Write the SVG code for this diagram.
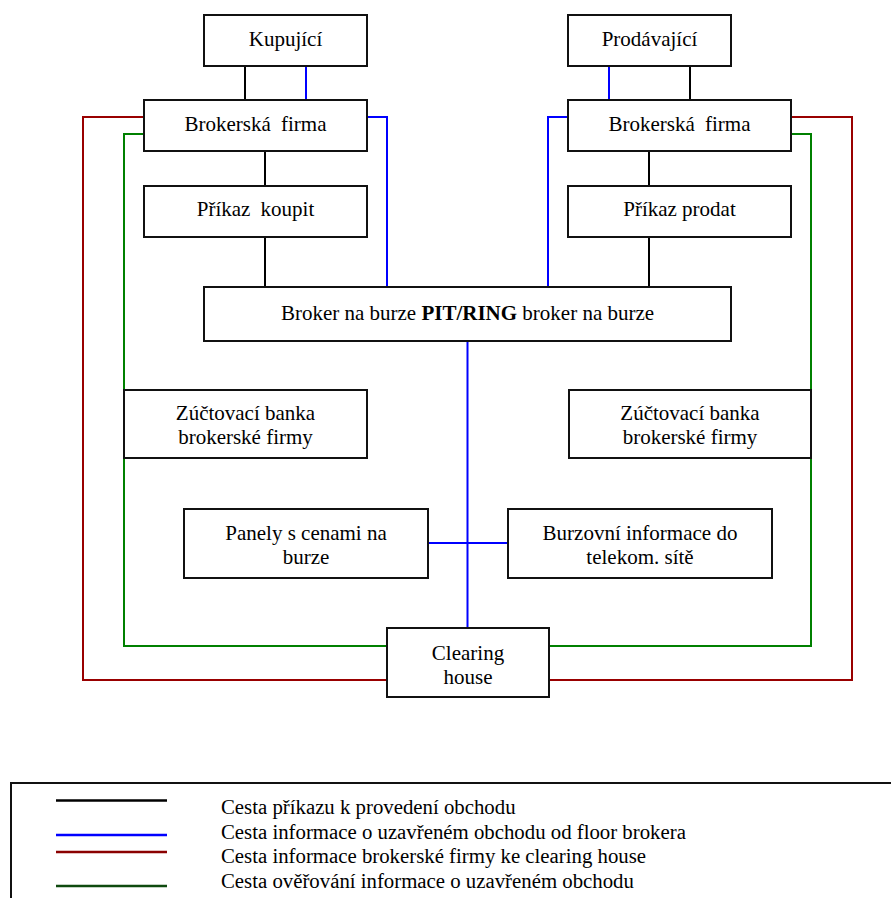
<svg xmlns="http://www.w3.org/2000/svg" width="891" height="898" viewBox="0 0 891 898">
<style>
.box{fill:#fff;stroke:#111;stroke-width:2}
text{font-family:'Liberation Serif','DejaVu Serif','Times New Roman',serif;fill:#000}
.t{font-size:21px;text-anchor:middle}
.lt{font-size:20.8px}
.c{fill:none;stroke-width:2;stroke-linejoin:miter}
.k{stroke:#000}
.b{stroke:#0000ff}
.r{stroke:#990000}
.g{stroke:#008000}
</style>
<rect width="891" height="898" fill="#fff"/>
<g id="connectors">
<path class="c k" d="M245,66V100M265,151V186M265,237V287M690,66V100M649,151V186M649,237V287"/>
<path class="c b" d="M306,66V100M367,117H387V287M609,66V100M568,117H548V287M467.5,341V628M428,543H508"/>
<path class="c r" d="M144,117H83V680H387M791,117H852V680H549"/>
<path class="c g" d="M144,134H124V646H387M791,134H811V646H549"/>
</g>
<g id="kupujici"><rect class="box" x="204" y="15" width="163" height="51"/><text class="t" x="285.5" y="46">Kupující</text></g>
<g id="prodavajici"><rect class="box" x="568" y="15" width="163" height="51"/><text class="t" x="649.5" y="46">Prodávající</text></g>
<g id="broker-firma-l"><rect class="box" x="144" y="100" width="223" height="51"/><text class="t" x="255.5" y="131" word-spacing="5">Brokerská firma</text></g>
<g id="broker-firma-r"><rect class="box" x="568" y="100" width="223" height="51"/><text class="t" x="679.5" y="131" word-spacing="5">Brokerská firma</text></g>
<g id="prikaz-koupit"><rect class="box" x="144" y="186" width="223" height="51"/><text class="t" x="255.5" y="216" word-spacing="5">Příkaz koupit</text></g>
<g id="prikaz-prodat"><rect class="box" x="568" y="186" width="223" height="51"/><text class="t" x="679.5" y="216">Příkaz prodat</text></g>
<g id="broker-burza"><rect class="box" x="204" y="287" width="527" height="54"/><text class="t" x="467.5" y="319.5">Broker na burze <tspan font-weight="bold">PIT/RING</tspan> broker na burze</text></g>
<g id="zuctovaci-l"><rect class="box" x="124" y="390" width="243" height="68"/><text class="t" x="245.5" y="420">Zúčtovací banka</text><text class="t" x="245.5" y="443.5">brokerské firmy</text></g>
<g id="zuctovaci-r"><rect class="box" x="569" y="390" width="242" height="68"/><text class="t" x="690" y="420">Zúčtovací banka</text><text class="t" x="690" y="443.5">brokerské firmy</text></g>
<g id="panely"><rect class="box" x="184" y="509" width="244" height="69"/><text class="t" x="306" y="539.5">Panely s cenami na</text><text class="t" x="306" y="563.5">burze</text></g>
<g id="burzovni"><rect class="box" x="508" y="509" width="264" height="69"/><text class="t" x="640" y="539.5">Burzovní informace do</text><text class="t" x="640" y="563.5">telekom. sítě</text></g>
<g id="clearing"><rect class="box" x="387" y="628" width="162" height="69"/><text class="t" x="468" y="660">Clearing</text><text class="t" x="468" y="683.5">house</text></g>
<g id="legend">
<rect x="11" y="783" width="900" height="200" fill="none" stroke="#111" stroke-width="2"/>
<path d="M56,800.5H167" stroke="#000" stroke-width="2.5"/>
<path d="M56,835H167" stroke="#0000ff" stroke-width="2.5"/>
<path d="M56,852H167" stroke="#8b0000" stroke-width="2.5"/>
<path d="M56,886H167" stroke="#0f4a0f" stroke-width="2.5"/>
<text class="lt" x="221" y="814">Cesta příkazu k provedení obchodu</text>
<text class="lt" x="221" y="838.5">Cesta informace o uzavřeném obchodu od floor brokera</text>
<text class="lt" x="221" y="863">Cesta informace brokerské firmy ke clearing house</text>
<text class="lt" x="221" y="887.5">Cesta ověřování informace o uzavřeném obchodu</text>
</g>
</svg>
